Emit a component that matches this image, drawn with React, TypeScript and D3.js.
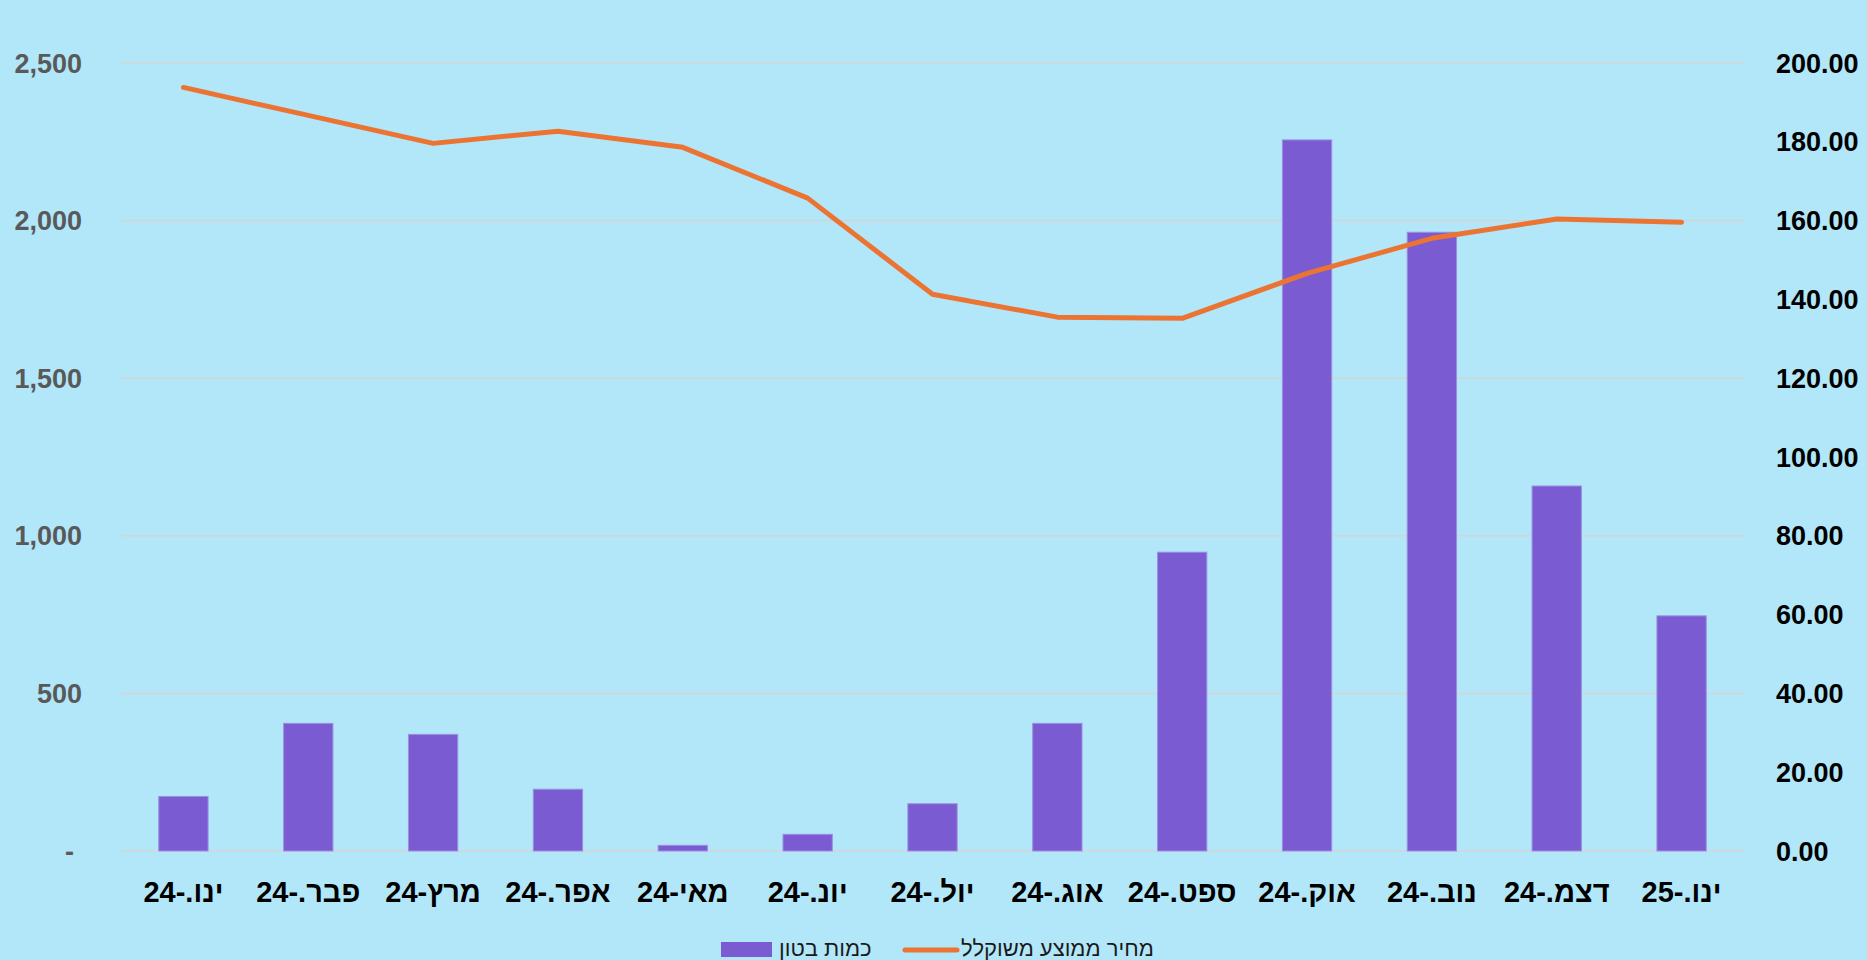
import * as d3 from "d3";

const W = 1867;
const H = 960;
const LEFT = 121;
const RIGHT = 1744;
const TOP = 63;
const BASE = 851;

const BG = "#b2e7f9";
const BAR = "#7a5bd2";
const LINE = "#ec7432";
const GRID = "#d4d4d4";

const months = [
  "ינו.-24",
  "פבר.-24",
  "מרץ-24",
  "אפר.-24",
  "מאי-24",
  "יונ.-24",
  "יול.-24",
  "אוג.-24",
  "ספט.-24",
  "אוק.-24",
  "נוב.-24",
  "דצמ.-24",
  "ינו.-25",
];
// concrete quantity (left axis)
const quantity = [173, 405, 370, 196, 18, 53, 150, 405, 948, 2256, 1963, 1158, 746];
// weighted average price (right axis)
const price = [193.8, 186.7, 179.6, 182.7, 178.6, 165.7, 141.3, 135.5, 135.2, 146.6, 155.5, 160.4, 159.6];

const leftTicks = [0, 500, 1000, 1500, 2000, 2500];
const rightTicks = [0, 20, 40, 60, 80, 100, 120, 140, 160, 180, 200];

const barLabel = "כמות בטון";
const lineLabel = "מחיר ממוצע משוקלל";

export default function App() {
  const x = d3
    .scaleBand<string>()
    .domain(months)
    .range([LEFT, RIGHT])
    .paddingInner(0.605)
    .paddingOuter(0.3025);
  const step = x.step();
  const yL = d3.scaleLinear().domain([0, 2500]).range([BASE, TOP]);
  const yR = d3.scaleLinear().domain([0, 200]).range([BASE, TOP]);

  const line = d3
    .line<number>()
    .x((_, i) => (x(months[i]) as number) + x.bandwidth() / 2)
    .y((d) => yR(d));

  const fmtL = (v: number) => (v === 0 ? "-" : d3.format(",")(v));

  return (
    <svg
      width={W}
      height={H}
      style={{ position: "absolute", left: 0, top: 0, display: "block" }}
    >
      <rect width={W} height={H} fill={BG} />

      {/* gridlines */}
      {leftTicks.map((t) => (
        <line key={t} x1={LEFT} x2={RIGHT} y1={yL(t)} y2={yL(t)} stroke={GRID} strokeWidth={1.5} />
      ))}

      {/* left axis */}
      {leftTicks.map((t) => (
        <text
          key={t}
          x={t === 0 ? 74 : 82}
          y={yL(t) + 9.5}
          textAnchor="end"
          fontFamily="'Liberation Sans', Arial, sans-serif"
          fontWeight="bold"
          fontSize={27}
          fill="#595959"
        >
          {fmtL(t)}
        </text>
      ))}

      {/* right axis */}
      {rightTicks.map((t) => (
        <text
          key={t}
          x={1776}
          y={yR(t) + 9.5}
          textAnchor="start"
          fontFamily="'Liberation Sans', Arial, sans-serif"
          fontWeight="bold"
          fontSize={27}
          fill="#000"
        >
          {t.toFixed(2)}
        </text>
      ))}

      {/* bars */}
      {quantity.map((v, i) => (
        <rect
          key={months[i]}
          x={x(months[i])}
          y={yL(v)}
          width={x.bandwidth()}
          height={BASE - yL(v)}
          fill={BAR}
          stroke="#9c8fe4"
          strokeWidth={1}
        />
      ))}

      {/* price line */}
      <path
        d={line(price) ?? ""}
        fill="none"
        stroke={LINE}
        strokeWidth={5}
        strokeLinejoin="round"
        strokeLinecap="round"
      />

      {/* x labels */}
      {months.map((m) => (
        <text
          key={m}
          x={(x(m) as number) + x.bandwidth() / 2}
          y={902}
          textAnchor="middle"
          fontFamily="'Liberation Sans Narrow', 'Arial Narrow', sans-serif"
          fontWeight="bold"
          fontSize={29}
          fill="#000"
        >
          {m}
        </text>
      ))}

      {/* legend */}
      <rect x={721} y={942} width={51} height={15} fill={BAR} />
      <text
        x={779}
        y={956}
        textAnchor="start"
        fontFamily="'Liberation Sans', Arial, sans-serif"
        fontSize={22}
        fill="#1a1a1a"
      >
        {barLabel}
      </text>
      <line
        x1={905}
        x2={957}
        y1={950}
        y2={950}
        stroke={LINE}
        strokeWidth={5}
        strokeLinecap="round"
      />
      <text
        x={961}
        y={956}
        textAnchor="start"
        fontFamily="'Liberation Sans', Arial, sans-serif"
        fontSize={22}
        fill="#1a1a1a"
      >
        {lineLabel}
      </text>
    </svg>
  );
}
